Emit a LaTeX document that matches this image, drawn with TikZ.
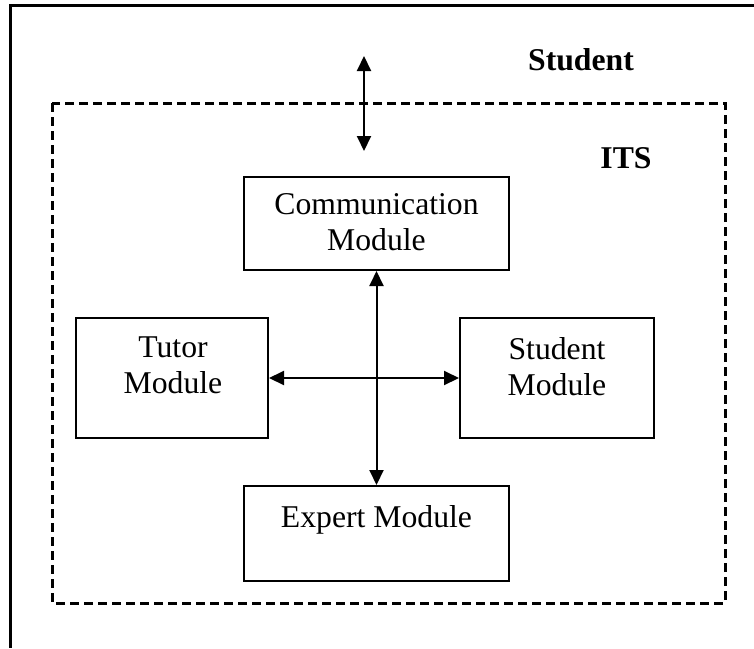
\documentclass[tikz,border=0pt]{standalone}
\usepackage{fontspec}
\setmainfont{Liberation Serif}
\usetikzlibrary{arrows.meta}
\tikzset{
  module/.style={shape=rectangle,draw=black,line width=2pt},
  txt/.style={font=\fontsize{31.7}{36}\selectfont,inner sep=0pt,align=center},
  head/.style={font=\fontsize{31.7}{36}\selectfont\bfseries,inner sep=0pt,anchor=base},
  link/.style={line width=2pt,{Triangle[length=15pt,width=14pt]}-{Triangle[length=15pt,width=14pt]}}
}
\begin{document}
\begin{tikzpicture}[x=1pt,y=-1pt]
            \useasboundingbox (0,0) rectangle (754,648);
            \draw[line width=3pt] (754,5) -- (10,5) -- (10,648);
            \draw[line width=3pt,dash pattern=on 9pt off 5pt] (52,103) rectangle (725,603);
            \node[head] (studlabel) at (581,70) {Student};
            \node[head] (its) at (626,168) {ITS};
            \node[module,minimum width=265pt,minimum height=93pt] (comm) at (376.5,223.5) {};
            \node[module,minimum width=192pt,minimum height=120pt] (tutor) at (172,378) {};
            \node[module,minimum width=194pt,minimum height=120pt] (studmod) at (557,378) {};
            \node[module,minimum width=265pt,minimum height=95pt] (expert) at (376.5,533.5) {};
            \node[txt,anchor=north] (commtxt) at (376.5,193) {Communication\\Module};
            \node[txt,anchor=north] (tutortxt) at (173,337) {Tutor\\Module};
            \node[txt,anchor=north] (studtxt) at (557,337) {Student\\Module};
            \node[txt,anchor=north] (experttxt) at (376.5,505) {Expert Module};
            \coordinate (outside) at (364,56);
            \coordinate (inside) at (364,151);
            \path [link] (outside) edge (inside);
            \path [link] (comm) edge (expert);
            \path [link] (tutor) edge (studmod);
        \end{tikzpicture}
\end{document}
